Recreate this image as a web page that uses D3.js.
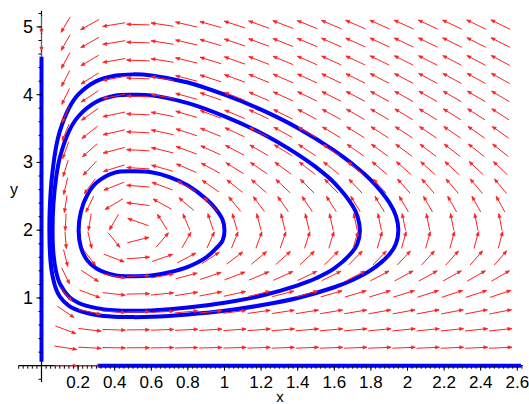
<!DOCTYPE html>
<html><head><meta charset="utf-8">
<script src="https://cdn.jsdelivr.net/npm/d3@7"></script>
<style>
html,body{margin:0;padding:0;background:#fff;}
svg{display:block;}
text{font-family:"Liberation Sans",Arial,sans-serif;fill:#000;}
</style></head>
<body>
<svg id="chart" width="529" height="404"></svg>
<script>
// ---- data ----
// Lotka-Volterra model: dx/dt = x(a - b y), dy/dt = y(-c + d x)
const fieldA = 2, fieldB = 1, fieldC = 0.5, fieldD = 1;
// arrow grid
const gridX = [0,0.132,0.264,0.396,0.528,0.66,0.792,0.924,1.056,1.188,1.32,1.452,1.584,1.716,1.848,1.98,2.112,2.244,2.376,2.508];
const gridY = [0,0.265,0.53,0.795,1.06,1.325,1.59,1.855,2.12,2.385,2.65,2.915,3.18,3.445,3.71,3.975,4.24,4.505,4.77,5.035];
// closed orbits
const orbitInner = [[1.0,2.0],[0.99,2.15],[0.95,2.32],[0.9,2.46],[0.8,2.66],[0.7,2.785],[0.6,2.855],[0.5,2.87],[0.4,2.85],[0.3,2.70],[0.25,2.52],[0.215,2.27],[0.203,2.0],[0.215,1.75],[0.25,1.555],[0.3,1.435],[0.4,1.335],[0.5,1.32],[0.6,1.33],[0.7,1.38],[0.8,1.46],[0.9,1.6],[0.95,1.72],[0.99,1.85]];
const orbitMiddle = [[1.74,2.0],[1.727,2.2],[1.7,2.36],[1.6,2.70],[1.5,2.93],[1.4,3.12],[1.2,3.435],[1.0,3.68],[0.8,3.875],[0.6,3.99],[0.5,4.0],[0.4,3.985],[0.3,3.895],[0.2,3.675],[0.15,3.46],[0.1,3.07],[0.08,2.78],[0.065,2.38],[0.0605,2.0],[0.065,1.66],[0.08,1.385],[0.1,1.215],[0.15,1.02],[0.2,0.93],[0.3,0.85],[0.4,0.818],[0.5,0.81],[0.6,0.816],[0.8,0.858],[1.0,0.93],[1.2,1.032],[1.4,1.187],[1.5,1.29],[1.6,1.435],[1.7,1.685],[1.726,1.8]];
const orbitOuter = [[1.95,2.0],[1.938,2.2],[1.9,2.41],[1.8,2.74],[1.7,2.975],[1.6,3.175],[1.4,3.51],[1.2,3.78],[1.0,4.0],[0.8,4.18],[0.6,4.285],[0.5,4.30],[0.4,4.28],[0.3,4.2],[0.2,4.0],[0.15,3.80],[0.1,3.46],[0.08,3.235],[0.06,2.86],[0.05,2.57],[0.043,2.0],[0.05,1.52],[0.06,1.33],[0.08,1.128],[0.1,1.02],[0.15,0.883],[0.2,0.815],[0.3,0.748],[0.4,0.723],[0.5,0.717],[0.6,0.721],[0.8,0.755],[1.0,0.81],[1.2,0.892],[1.4,1.0],[1.6,1.158],[1.7,1.265],[1.8,1.41],[1.9,1.64],[1.937,1.8]];
// trajectories lying on the axes
const axisTrajX = [[0.31,0],[2.62,0]];
const axisTrajY = [[0,0.06],[0,4.56]];
// tick labels
const xTickValues = [0.2,0.4,0.6,0.8,1,1.2,1.4,1.6,1.8,2,2.2,2.4,2.6];
const xTickLabels = ["0.2","0.4","0.6","0.8","1","1.2","1.4","1.6","1.8","2","2.2","2.4","2.6"];
const yTickValues = [1,2,3,4,5];
const yTickLabels = ["1","2","3","4","5"];
const xLabel = "x", yLabel = "y";

// ---- layout ----
const svg = d3.select("#chart");
const x = d3.scaleLinear().domain([0, 2.6]).range([41.5, 41.5 + 2.6 * 183]);
const y = d3.scaleLinear().domain([0, 5]).range([365.7, 365.7 - 5 * 67.75]);
const xMin = -0.125, xMax = 2.63, yMin = -0.24, yMax = 5.24;

const gAxes = svg.append("g");
const gOrb = svg.append("g");
const gArr = svg.append("g");
const gAxTraj = svg.append("g");
const gTicks = svg.append("g");

// axes lines
gAxes.append("line").attr("x1", x(xMin)).attr("x2", x(xMax)).attr("y1", y(0)).attr("y2", y(0)).attr("stroke", "#000").attr("stroke-width", 1.2);
gAxes.append("line").attr("x1", x(0)).attr("x2", x(0)).attr("y1", y(yMin)).attr("y2", y(yMax)).attr("stroke", "#000").attr("stroke-width", 1.2);

// orbits
const line = d3.line().x(d => x(d[0])).y(d => y(d[1])).curve(d3.curveCatmullRomClosed.alpha(0.5));
[orbitInner, orbitMiddle, orbitOuter].forEach(o => {
  gOrb.append("path").attr("d", line(o)).attr("fill", "none").attr("stroke", "#0000ff").attr("stroke-width", 4);
});

// direction field arrows
const cellX = gridX[1] - gridX[0], cellY = gridY[1] - gridY[0];
const ell = 0.95;
gridX.forEach(gx => {
  gridY.forEach(gy => {
    const dx = gx * (fieldA - fieldB * gy);
    const dy = gy * (-fieldC + fieldD * gx);
    const n = Math.hypot(dx / cellX, dy / cellY);
    if (n < 1e-9) return;
    const ax = dx * ell / n, ay = dy * ell / n;
    const x1 = x(gx - ax / 2), y1 = y(gy - ay / 2);
    const x2 = x(gx + ax / 2), y2 = y(gy + ay / 2);
    gArr.append("line").attr("x1", x1).attr("y1", y1).attr("x2", x2).attr("y2", y2)
      .attr("stroke", "#ff2020").attr("stroke-width", 1);
    const ang = Math.atan2(y2 - y1, x2 - x1);
    const hl = 4, hw = 1.7;
    const bx = x2 - hl * Math.cos(ang), by = y2 - hl * Math.sin(ang);
    const px = -Math.sin(ang) * hw, py = Math.cos(ang) * hw;
    gArr.append("path").attr("d", `M${x2},${y2}L${bx + px},${by + py}L${bx - px},${by - py}Z`)
      .attr("fill", "#ff2020").attr("stroke", "#ff2020").attr("stroke-width", 0.5);
  });
});

// axis trajectories
const straight = d3.line().x(d => x(d[0])).y(d => y(d[1]));
[axisTrajX, axisTrajY].forEach(t => {
  gAxTraj.append("path").attr("d", straight(t)).attr("fill", "none").attr("stroke", "#0000ff").attr("stroke-width", 4);
});

// ticks
d3.range(-0.125, 2.63, 0.025).forEach(v => {
  gTicks.append("line").attr("x1", x(v)).attr("x2", x(v)).attr("y1", y(0)).attr("y2", y(0) + 3).attr("stroke", "#000");
});
xTickValues.forEach((v, i) => {
  gTicks.append("line").attr("x1", x(v)).attr("x2", x(v)).attr("y1", y(0)).attr("y2", y(0) + 5).attr("stroke", "#000");
  gTicks.append("text").attr("x", x(v)).attr("y", 388).attr("text-anchor", "middle").attr("font-size", 17).text(xTickLabels[i]);
});
d3.range(-0.2, 5.25, 0.2).forEach(v => {
  gTicks.append("line").attr("x1", x(0) - 3).attr("x2", x(0)).attr("y1", y(v)).attr("y2", y(v)).attr("stroke", "#000");
});
yTickValues.forEach((v, i) => {
  gTicks.append("line").attr("x1", x(0) - 5).attr("x2", x(0)).attr("y1", y(v)).attr("y2", y(v)).attr("stroke", "#000");
  gTicks.append("text").attr("x", 33).attr("y", y(v) + 6).attr("text-anchor", "end").attr("font-size", 18).text(yTickLabels[i]);
});
svg.append("text").attr("x", 280).attr("y", 402).attr("text-anchor", "middle").attr("font-size", 15).text(xLabel);
svg.append("text").attr("x", 14).attr("y", 195).attr("text-anchor", "middle").attr("font-size", 16).text(yLabel);
</script>
</body></html>
